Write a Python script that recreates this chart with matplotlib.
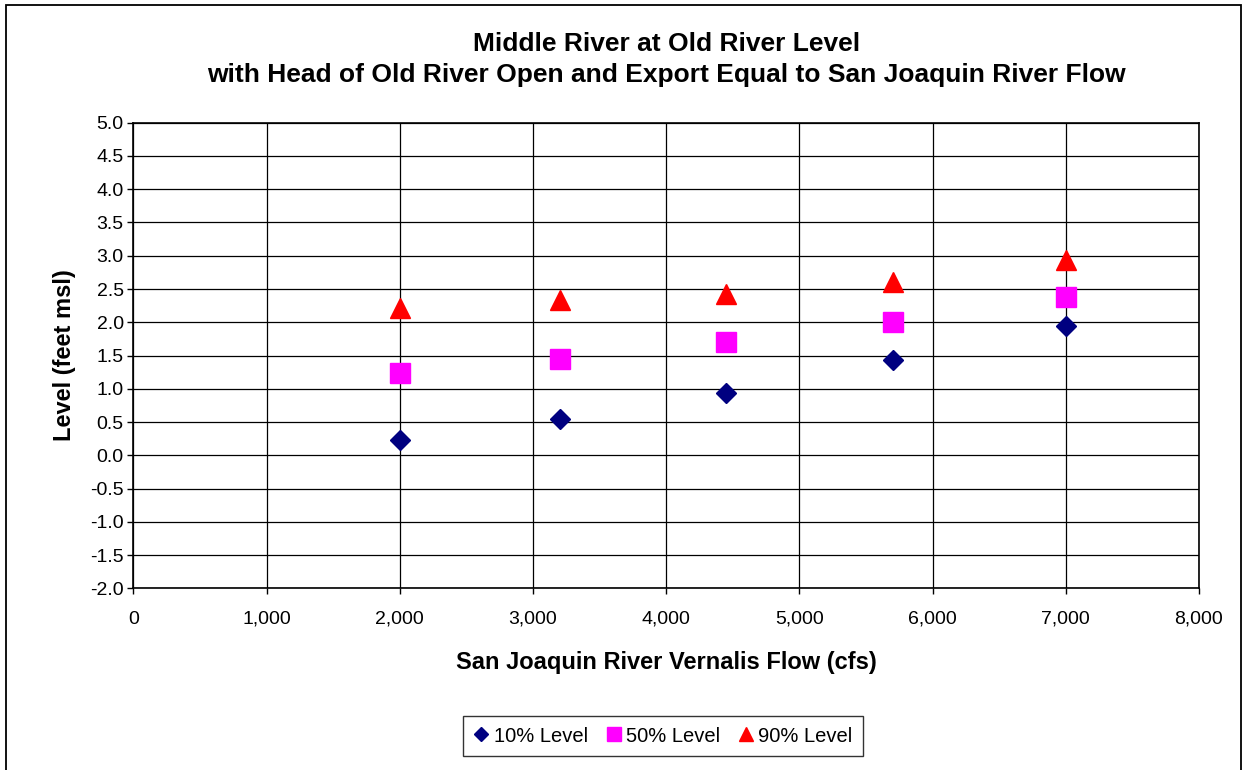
import matplotlib
matplotlib.use("Agg")
import matplotlib.pyplot as plt
from matplotlib.patches import Rectangle

plt.rcParams['font.family'] = ['Liberation Sans', 'DejaVu Sans']

flow = [2000, 3200, 4450, 5700, 7000]
level_10 = [0.23, 0.54, 0.94, 1.43, 1.95]
level_50 = [1.24, 1.44, 1.70, 2.01, 2.38]
level_90 = [2.21, 2.33, 2.42, 2.61, 2.93]

series_names = ['10% Level', '50% Level', '90% Level']
title = ("Middle River at Old River Level\n"
         "with Head of Old River Open and Export Equal to San Joaquin River Flow")
xlabel = "San Joaquin River Vernalis Flow (cfs)"
ylabel = "Level (feet msl)"

fig = plt.figure(figsize=(12.44, 7.70), dpi=100)
ax = fig.add_axes([0.1072, 0.2360, 0.9638 - 0.1072, 0.8406 - 0.2360])

ax.plot(flow, level_10, linestyle='none', marker='D', markersize=10,
        color='#000080', label=series_names[0], zorder=3)
ax.plot(flow, level_50, linestyle='none', marker='s', markersize=14.5,
        color='#FF00FF', label=series_names[1], zorder=3)
ax.plot(flow, level_90, linestyle='none', marker='^', markersize=14.5,
        color='#FF0000', label=series_names[2], zorder=3)

ax.set_xlim(0, 8000)
ax.set_ylim(-2.0, 5.0)
ax.set_xticks(range(0, 8001, 1000))
ax.set_xticklabels([f"{v:,}" for v in range(0, 8001, 1000)])
yt = [i * 0.5 for i in range(-4, 11)]
ax.set_yticks(yt)
ax.set_yticklabels([f"{v:.1f}" for v in yt])
ax.grid(True, color='black', linewidth=0.9)
ax.set_axisbelow(True)
for s in ax.spines.values():
    s.set_linewidth(1.2)
    s.set_color('black')
ax.tick_params(direction='out', length=4, width=1, labelsize=14, colors='black')
ax.tick_params(axis='x', pad=12)
ax.tick_params(axis='y', pad=3)

fig.text(0.536, 1 - 59.5 / 770, title, ha='center', va='center', fontsize=19,
         fontweight='bold', linespacing=1.38)
ax.set_xlabel(xlabel, fontsize=17, fontweight='bold', labelpad=17)
ax.set_ylabel(ylabel, fontsize=17, fontweight='bold', labelpad=10)

leg = fig.legend(loc='center', bbox_to_anchor=(663 / 1244, 1 - 736 / 770),
                 ncol=3, fontsize=14.5, frameon=True, fancybox=False,
                 edgecolor='black', markerscale=0.72, handlelength=0.8,
                 handletextpad=0.2, columnspacing=0.9, borderpad=0.5)
leg.get_frame().set_linewidth(1.0)

fig.patches.append(Rectangle((5.5 / 1244, -0.01), (1241 - 5.5) / 1244, 1 - 4.5 / 770 + 0.01,
                             transform=fig.transFigure, fill=False,
                             edgecolor='black', linewidth=1.3))

fig.savefig('out.png', dpi=100)
